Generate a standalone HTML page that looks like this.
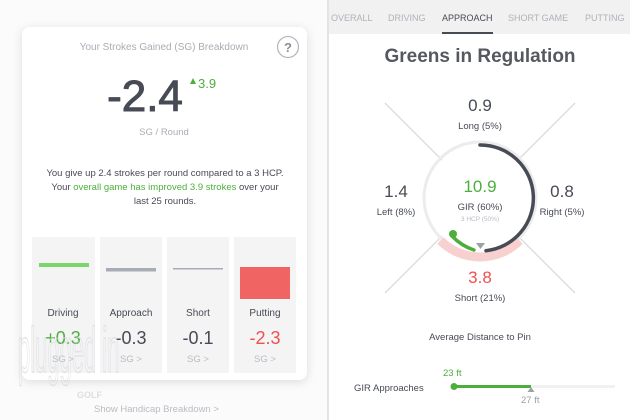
<!DOCTYPE html>
<html><head><style>
html,body{margin:0;padding:0;background:#fff;}
svg{display:block;font-family:"Liberation Sans",sans-serif;}
</style></head><body>
<svg width="630" height="420" viewBox="0 0 630 420" xmlns="http://www.w3.org/2000/svg">
<defs>
<filter id="sh" x="-10%" y="-10%" width="120%" height="120%"><feDropShadow dx="0" dy="2" stdDeviation="5" flood-color="#000" flood-opacity="0.12"/></filter>
</defs>
<rect width="630" height="420" fill="#fff"/>
<rect x="0" y="0" width="327" height="420" fill="#fbfbfb"/>
<!-- card -->
<rect x="22" y="27" width="285" height="353" rx="8" fill="#fff" filter="url(#sh)"/>
<text x="164" y="50" font-size="10" fill="#a9adb3" text-anchor="middle">Your Strokes Gained (SG) Breakdown</text>
<circle cx="288" cy="47" r="10.5" fill="none" stroke="#b5b9be" stroke-width="1.3"/>
<text x="288" y="52" font-size="13" font-weight="bold" fill="#8a8f96" text-anchor="middle">?</text>
<text x="145" y="111" font-size="44" fill="#474b55" stroke="#474b55" stroke-width="1" text-anchor="middle">-2.4</text>
<path d="M190 84 l3 -6 l3 6z" fill="#4caf3c"/>
<text x="198" y="88" font-size="13" fill="#4caf3c">3.9</text>
<text x="164" y="135" font-size="9.5" fill="#a9adb3" text-anchor="middle">SG / Round</text>
<text x="165" y="176" font-size="9.5" fill="#474b55" text-anchor="middle">You give up 2.4 strokes per round compared to a 3 HCP.</text>
<text x="165" y="190" font-size="9.5" fill="#474b55" text-anchor="middle">Your <tspan fill="#4caf3c">overall game has improved 3.9 strokes</tspan>  over your</text>
<text x="165" y="204" font-size="9.5" fill="#474b55" text-anchor="middle">last 25 rounds.</text>
<g fill="#f4f4f5">
<rect x="32" y="237" width="63" height="136"/>
<rect x="100" y="237" width="62" height="136"/>
<rect x="167" y="237" width="62" height="136"/>
<rect x="234" y="237" width="62" height="136"/>
</g>
<rect x="39" y="263" width="50" height="4" fill="#7ad66a"/>
<rect x="106" y="268" width="50" height="3.5" fill="#a7adb4"/>
<rect x="173" y="268" width="50" height="1.5" fill="#a7adb4"/>
<rect x="240" y="267" width="50" height="32" fill="#f06464"/>
<g font-size="10" fill="#474b55" text-anchor="middle">
<text x="63" y="316">Driving</text><text x="131" y="316">Approach</text><text x="198" y="316">Short</text><text x="265" y="316">Putting</text>
</g>
<g font-size="18" text-anchor="middle">
<text x="63" y="344" fill="#4caf3c">+0.3</text><text x="131" y="344" fill="#474b55">-0.3</text><text x="198" y="344" fill="#474b55">-0.1</text><text x="265" y="344" fill="#f05050">-2.3</text>
</g>
<g font-size="9.5" fill="#b8bcc1" text-anchor="middle">
<text x="63" y="362">SG &gt;</text><text x="131" y="362">SG &gt;</text><text x="198" y="362">SG &gt;</text><text x="265" y="362">SG &gt;</text>
</g>
<text x="94" y="412" font-size="9.5" fill="#b8bcc1">Show Handicap Breakdown  &gt;</text>
<!-- watermark -->
<text transform="translate(18,372) scale(0.55,1.6)" font-size="40" fill="none" stroke="#d5d7da" stroke-width="1" opacity="0.6">plugged in</text>
<text x="77" y="398" font-size="9" font-weight="bold" fill="#dcdee0">GOLF</text>
<!-- divider -->
<rect x="327" y="0" width="2" height="420" fill="#e2e4e6"/>
<!-- right -->
<rect x="329" y="0" width="301" height="34" fill="#f1f1f2"/>
<g font-size="9" fill="#aeb2b7">
<text x="331" y="21">OVERALL</text><text x="388" y="21">DRIVING</text><text x="508" y="21">SHORT GAME</text><text x="585" y="21">PUTTING</text>
</g>
<text x="442" y="21" font-size="9" fill="#474b55">APPROACH</text>
<rect x="442" y="32" width="51" height="2" fill="#474b55"/>
<text x="480" y="62" font-size="19" font-weight="bold" fill="#55595f" text-anchor="middle">Greens in Regulation</text>
<g stroke="#cfd2d5" stroke-width="1">
<line x1="385" y1="103" x2="442" y2="160"/><line x1="575" y1="103" x2="518" y2="160"/>
<line x1="385" y1="293" x2="442" y2="236"/><line x1="575" y1="293" x2="518" y2="236"/>
</g>
<circle cx="480" cy="198" r="56" fill="none" stroke="#ececee" stroke-width="3"/>
<path d="M440.4 237.6 A56 56 0 0 0 519.6 237.6" fill="none" stroke="#f8d0d0" stroke-width="9" transform="translate(0,3)"/>
<path d="M480 145 A53 53 0 0 1 486 250.7" fill="none" stroke="#474b55" stroke-width="3.5" stroke-linecap="round"/>
<path d="M452 236 A53 53 0 0 0 474 250" fill="none" stroke="#4caf3c" stroke-width="3.5" stroke-linecap="round"/>
<circle cx="453" cy="234" r="4" fill="#4caf3c"/>
<path d="M476 243 h9 l-4.5 6z" fill="#9aa1a8"/>
<g text-anchor="middle">
<text x="480" y="111" font-size="17" fill="#474b55">0.9</text>
<text x="480" y="129" font-size="9.5" fill="#474b55">Long (5%)</text>
<text x="396" y="197" font-size="17" fill="#474b55">1.4</text>
<text x="396" y="215" font-size="9.5" fill="#474b55">Left (8%)</text>
<text x="562" y="197" font-size="17" fill="#474b55">0.8</text>
<text x="562" y="215" font-size="9.5" fill="#474b55">Right (5%)</text>
<text x="480" y="192" font-size="17" fill="#4caf3c">10.9</text>
<text x="480" y="210" font-size="9.5" fill="#474b55">GIR (60%)</text>
<text x="480" y="221" font-size="6.5" fill="#b8bcc1">3 HCP (50%)</text>
<text x="480" y="283" font-size="17" fill="#f05050">3.8</text>
<text x="480" y="301" font-size="9.5" fill="#474b55">Short (21%)</text>
<text x="480" y="340" font-size="9.5" fill="#474b55">Average Distance to Pin</text>
</g>
<text x="354" y="391" font-size="9.5" fill="#474b55">GIR Approaches</text>
<rect x="455" y="385" width="160" height="3" fill="#f1f1f2"/>
<rect x="453" y="385" width="78" height="3" fill="#4caf3c"/>
<circle cx="454" cy="386.5" r="3.5" fill="#4caf3c"/>
<path d="M531 387 l3.5 5 h-7z" fill="#9aa1a8"/>
<text x="443" y="376" font-size="9.5" fill="#4caf3c">23 ft</text>
<text x="521" y="403" font-size="9.5" fill="#9aa1a8">27 ft</text>
</svg>
</body></html>
